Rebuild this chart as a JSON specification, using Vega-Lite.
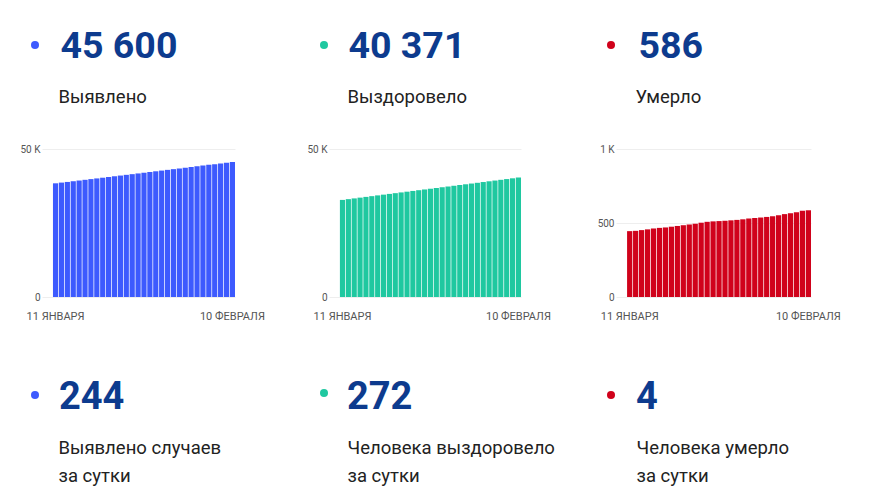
{
  "$schema": "https://vega.github.io/schema/vega-lite/v6.json",
  "autosize": {"type": "pad"},
  "padding": {"left": 20, "top": 0, "right": 0, "bottom": 0},
  "background": "white",
  "config": {
    "view": {"stroke": null},
    "font": "Roboto",
    "axis": {"labelFont": "Roboto", "labelColor": "#555555", "domain": false, "ticks": false, "title": null, "gridColor": "#eeeeee"},
    "text": {"font": "Roboto"}
  },
  "datasets": {
    "summary": [
      {"metric": "cases", "total": "45 600", "label": "Выявлено", "daily": "244", "dailyLabel": ["Выявлено случаев", "за сутки"]},
      {"metric": "recovered", "total": "40 371", "label": "Выздоровело", "daily": "272", "dailyLabel": ["Человека выздоровело", "за сутки"]},
      {"metric": "deaths", "total": "586", "label": "Умерло", "daily": "4", "dailyLabel": ["Человека умерло", "за сутки"]}
    ],
    "series": [
      {"date": "11 ЯНВАРЯ", "cases": 38410, "recovered": 32800, "deaths": 445},
      {"date": "12 ЯНВАРЯ", "cases": 38650, "recovered": 33060, "deaths": 447},
      {"date": "13 ЯНВАРЯ", "cases": 38870, "recovered": 33310, "deaths": 452},
      {"date": "14 ЯНВАРЯ", "cases": 39110, "recovered": 33570, "deaths": 457},
      {"date": "15 ЯНВАРЯ", "cases": 39350, "recovered": 33820, "deaths": 463},
      {"date": "16 ЯНВАРЯ", "cases": 39590, "recovered": 34070, "deaths": 467},
      {"date": "17 ЯНВАРЯ", "cases": 39830, "recovered": 34330, "deaths": 470},
      {"date": "18 ЯНВАРЯ", "cases": 40060, "recovered": 34580, "deaths": 475},
      {"date": "19 ЯНВАРЯ", "cases": 40300, "recovered": 34830, "deaths": 480},
      {"date": "20 ЯНВАРЯ", "cases": 40540, "recovered": 35080, "deaths": 485},
      {"date": "21 ЯНВАРЯ", "cases": 40790, "recovered": 35330, "deaths": 490},
      {"date": "22 ЯНВАРЯ", "cases": 41030, "recovered": 35580, "deaths": 495},
      {"date": "23 ЯНВАРЯ", "cases": 41270, "recovered": 35830, "deaths": 502},
      {"date": "24 ЯНВАРЯ", "cases": 41500, "recovered": 36080, "deaths": 508},
      {"date": "25 ЯНВАРЯ", "cases": 41740, "recovered": 36330, "deaths": 511},
      {"date": "26 ЯНВАРЯ", "cases": 41980, "recovered": 36580, "deaths": 513},
      {"date": "27 ЯНВАРЯ", "cases": 42230, "recovered": 36830, "deaths": 515},
      {"date": "28 ЯНВАРЯ", "cases": 42470, "recovered": 37080, "deaths": 518},
      {"date": "29 ЯНВАРЯ", "cases": 42710, "recovered": 37330, "deaths": 521},
      {"date": "30 ЯНВАРЯ", "cases": 42950, "recovered": 37580, "deaths": 525},
      {"date": "31 ЯНВАРЯ", "cases": 43190, "recovered": 37830, "deaths": 530},
      {"date": "1 ФЕВРАЛЯ", "cases": 43430, "recovered": 38080, "deaths": 534},
      {"date": "2 ФЕВРАЛЯ", "cases": 43670, "recovered": 38330, "deaths": 537},
      {"date": "3 ФЕВРАЛЯ", "cases": 43910, "recovered": 38580, "deaths": 541},
      {"date": "4 ФЕВРАЛЯ", "cases": 44150, "recovered": 38840, "deaths": 546},
      {"date": "5 ФЕВРАЛЯ", "cases": 44390, "recovered": 39090, "deaths": 552},
      {"date": "6 ФЕВРАЛЯ", "cases": 44640, "recovered": 39340, "deaths": 560},
      {"date": "7 ФЕВРАЛЯ", "cases": 44880, "recovered": 39590, "deaths": 566},
      {"date": "8 ФЕВРАЛЯ", "cases": 45120, "recovered": 39840, "deaths": 573},
      {"date": "9 ФЕВРАЛЯ", "cases": 45356, "recovered": 40099, "deaths": 582},
      {"date": "10 ФЕВРАЛЯ", "cases": 45600, "recovered": 40371, "deaths": 586}
    ]
  },
  "hconcat": [
    {
      "vconcat": [
        {
          "width": 193, "height": 149,
          "data": {"name": "summary"},
          "transform": [{"filter": "datum.metric === 'cases'"}],
          "layer": [
            {"mark": {"type": "point", "filled": true, "opacity": 1, "size": 64, "color": "#3d5afe", "xOffset": -103.5, "yOffset": -29.5}, "encoding": {}},
            {"mark": {"type": "text", "align": "left", "baseline": "alphabetic", "dx": -78, "dy": -17, "fontSize": 37.5, "fontWeight": "bold", "color": "#0d3b8e"}, "encoding": {"text": {"field": "total"}}},
            {"mark": {"type": "text", "align": "left", "baseline": "alphabetic", "dx": -80, "dy": 28.5, "fontSize": 18.5, "color": "#222222"}, "encoding": {"text": {"field": "label"}}}
          ]
        },
        {
          "width": 193, "height": 148,
          "data": {"name": "series"},
          "mark": {"type": "bar", "color": "#3d5afe"},
          "encoding": {
            "x": {"field": "date", "type": "ordinal", "sort": null, "scale": {"paddingInner": 0.12, "paddingOuter": 0.93, "align": 1}, "axis": {"values": ["11 ЯНВАРЯ", "10 ФЕВРАЛЯ"], "labelAngle": 0, "labelPadding": 13, "labelFontSize": 11, "grid": false}},
            "y": {"field": "cases", "type": "quantitative", "scale": {"domain": [0, 50000], "nice": false}, "axis": {"values": [0, 50000], "labelPadding": 2, "labelFontSize": 10, "labelExpr": "datum.value >= 1000 ? format(datum.value / 1000, 'd') + ' K' : format(datum.value, 'd')"}}
          }
        },
        {
          "width": 193, "height": 198,
          "data": {"name": "summary"},
          "transform": [{"filter": "datum.metric === 'cases'"}],
          "layer": [
            {"mark": {"type": "point", "filled": true, "opacity": 1, "size": 64, "color": "#3d5afe", "xOffset": -103.5, "yOffset": -1}, "encoding": {}},
            {"mark": {"type": "text", "align": "left", "baseline": "alphabetic", "dx": -79.5, "dy": 13, "fontSize": 38, "fontWeight": "bold", "color": "#0d3b8e"}, "encoding": {"text": {"field": "daily"}}},
            {"mark": {"type": "text", "align": "left", "baseline": "alphabetic", "dx": -80, "dy": 58, "fontSize": 18.5, "lineHeight": 28, "color": "#222222"}, "encoding": {"text": {"field": "dailyLabel"}}}
          ]
        }
      ],
      "spacing": 0,
      "bounds": "flush"
    },
    {
      "vconcat": [
        {
          "width": 192, "height": 149,
          "data": {"name": "summary"},
          "transform": [{"filter": "datum.metric === 'recovered'"}],
          "layer": [
            {"mark": {"type": "point", "filled": true, "opacity": 1, "size": 64, "color": "#1fc8a0", "xOffset": -101, "yOffset": -29.5}, "encoding": {}},
            {"mark": {"type": "text", "align": "left", "baseline": "alphabetic", "dx": -76.5, "dy": -17, "fontSize": 37.5, "fontWeight": "bold", "color": "#0d3b8e"}, "encoding": {"text": {"field": "total"}}},
            {"mark": {"type": "text", "align": "left", "baseline": "alphabetic", "dx": -77.5, "dy": 28.5, "fontSize": 18.5, "color": "#222222"}, "encoding": {"text": {"field": "label"}}}
          ]
        },
        {
          "width": 192, "height": 148,
          "data": {"name": "series"},
          "mark": {"type": "bar", "color": "#1fc8a0"},
          "encoding": {
            "x": {"field": "date", "type": "ordinal", "sort": null, "scale": {"paddingInner": 0.12, "paddingOuter": 0.93, "align": 1}, "axis": {"values": ["11 ЯНВАРЯ", "10 ФЕВРАЛЯ"], "labelAngle": 0, "labelPadding": 13, "labelFontSize": 11, "grid": false}},
            "y": {"field": "recovered", "type": "quantitative", "scale": {"domain": [0, 50000], "nice": false}, "axis": {"values": [0, 50000], "labelPadding": 2, "labelFontSize": 10, "labelExpr": "datum.value >= 1000 ? format(datum.value / 1000, 'd') + ' K' : format(datum.value, 'd')"}}
          }
        },
        {
          "width": 192, "height": 198,
          "data": {"name": "summary"},
          "transform": [{"filter": "datum.metric === 'recovered'"}],
          "layer": [
            {"mark": {"type": "point", "filled": true, "opacity": 1, "size": 64, "color": "#1fc8a0", "xOffset": -101, "yOffset": -3}, "encoding": {}},
            {"mark": {"type": "text", "align": "left", "baseline": "alphabetic", "dx": -78, "dy": 13, "fontSize": 38, "fontWeight": "bold", "color": "#0d3b8e"}, "encoding": {"text": {"field": "daily"}}},
            {"mark": {"type": "text", "align": "left", "baseline": "alphabetic", "dx": -77.5, "dy": 58, "fontSize": 18.5, "lineHeight": 28, "color": "#222222"}, "encoding": {"text": {"field": "dailyLabel"}}}
          ]
        }
      ],
      "spacing": 0,
      "bounds": "flush"
    },
    {
      "vconcat": [
        {
          "width": 195, "height": 149,
          "data": {"name": "summary"},
          "transform": [{"filter": "datum.metric === 'deaths'"}],
          "layer": [
            {"mark": {"type": "point", "filled": true, "opacity": 1, "size": 64, "color": "#d0021b", "xOffset": -102.5, "yOffset": -29.5}, "encoding": {}},
            {"mark": {"type": "text", "align": "left", "baseline": "alphabetic", "dx": -75, "dy": -17, "fontSize": 37.5, "fontWeight": "bold", "color": "#0d3b8e"}, "encoding": {"text": {"field": "total"}}},
            {"mark": {"type": "text", "align": "left", "baseline": "alphabetic", "dx": -78, "dy": 28.5, "fontSize": 18.5, "color": "#222222"}, "encoding": {"text": {"field": "label"}}}
          ]
        },
        {
          "width": 195, "height": 148,
          "data": {"name": "series"},
          "mark": {"type": "bar", "color": "#d0021b"},
          "encoding": {
            "x": {"field": "date", "type": "ordinal", "sort": null, "scale": {"paddingInner": 0.12, "paddingOuter": 0.93, "align": 1}, "axis": {"values": ["11 ЯНВАРЯ", "10 ФЕВРАЛЯ"], "labelAngle": 0, "labelPadding": 13, "labelFontSize": 11, "grid": false}},
            "y": {"field": "deaths", "type": "quantitative", "scale": {"domain": [0, 1000], "nice": false}, "axis": {"values": [0, 500, 1000], "labelPadding": 2, "labelFontSize": 10, "labelExpr": "datum.value >= 1000 ? format(datum.value / 1000, 'd') + ' K' : format(datum.value, 'd')"}}
          }
        },
        {
          "width": 195, "height": 198,
          "data": {"name": "summary"},
          "transform": [{"filter": "datum.metric === 'deaths'"}],
          "layer": [
            {"mark": {"type": "point", "filled": true, "opacity": 1, "size": 64, "color": "#d0021b", "xOffset": -102.5, "yOffset": -1}, "encoding": {}},
            {"mark": {"type": "text", "align": "left", "baseline": "alphabetic", "dx": -77.5, "dy": 13, "fontSize": 38, "fontWeight": "bold", "color": "#0d3b8e"}, "encoding": {"text": {"field": "daily"}}},
            {"mark": {"type": "text", "align": "left", "baseline": "alphabetic", "dx": -77, "dy": 58, "fontSize": 18.5, "lineHeight": 28, "color": "#222222"}, "encoding": {"text": {"field": "dailyLabel"}}}
          ]
        }
      ],
      "spacing": 0,
      "bounds": "flush"
    }
  ],
  "spacing": 287,
  "bounds": "flush"
}
